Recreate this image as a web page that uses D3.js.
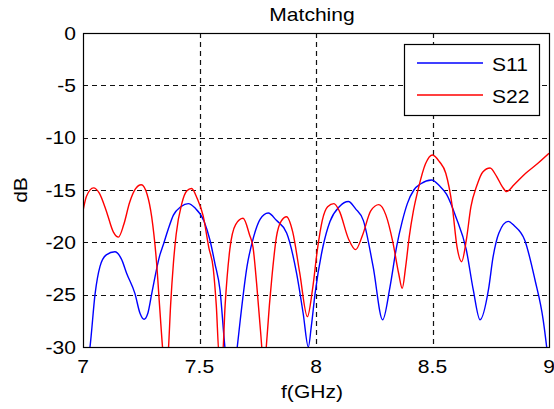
<!DOCTYPE html>
<html>
<head>
<meta charset="utf-8">
<script src="https://cdn.jsdelivr.net/npm/d3@7"></script>
<style>
  body{margin:0;background:#fff;}
  text{font-family:"Liberation Sans",Arial,sans-serif;fill:#000;}
</style>
</head>
<body>
<svg id="chart"></svg>
<script>
// frequency (GHz) and return loss (dB) for each port
var s11Freq=[7.00,7.03,7.052,7.073,7.10,7.137,7.165,7.188,7.223,7.245,7.262,7.278,7.295,7.33,7.345,7.365,7.388,7.42,7.452,7.48,
             7.52,7.545,7.566,7.588,7.609,7.635,7.662,7.675,7.704,7.732,7.76,7.795,7.83,7.874,7.917,7.945,7.967,7.98,7.996,
             8.03,8.06,8.10,8.139,8.17,8.203,8.245,8.286,8.318,8.346,8.37,8.392,8.42,8.45,8.496,8.53,8.56,8.60,8.645,8.675,
             8.704,8.74,8.76,8.785,8.825,8.85,8.896,8.94,8.975,8.99,9.00];
var s11Db=[-33,-30,-24.9,-22.3,-21.2,-20.9,-21.6,-23.0,-24.9,-26.8,-27.35,-26.8,-24.9,-21.2,-20.2,-18.8,-17.4,-16.6,-16.3,-16.7,
           -18.0,-19.8,-22.0,-24.55,-30,-34,-30,-27.4,-22.3,-19.5,-17.8,-17.2,-17.9,-19.1,-23,-26.8,-30,-28,-24.9,
           -20.4,-18.0,-16.6,-16.1,-16.8,-17.9,-22.3,-27.4,-24.2,-20.4,-18.0,-16.3,-15.0,-14.4,-14.05,-14.6,-15.4,-17.55,-20.7,-24.55,
           -27.4,-24.55,-21.4,-19.1,-18.0,-18.4,-19.8,-23.6,-27.4,-30,-32];
var s22Freq=[7.00,7.015,7.045,7.07,7.10,7.13,7.152,7.175,7.20,7.225,7.25,7.275,7.295,7.316,7.33,7.345,7.356,7.366,7.376,7.388,
             7.40,7.424,7.445,7.466,7.49,7.516,7.54,7.559,7.572,7.585,7.598,7.61,7.63,7.655,7.687,7.715,7.73,7.745,7.762,7.777,
             7.79,7.80,7.81,7.83,7.85,7.874,7.90,7.93,7.963,7.985,8.006,8.027,8.05,8.077,8.10,8.14,8.17,8.20,8.235,8.27,
             8.30,8.33,8.355,8.37,8.385,8.40,8.418,8.44,8.47,8.50,8.53,8.557,8.585,8.605,8.625,8.645,8.665,8.69,8.715,8.747,
             8.775,8.80,8.818,8.85,8.90,8.95,9.00];
var s22Db=[-17.0,-15.6,-14.8,-15.3,-17.0,-19.0,-19.5,-18.3,-16.2,-14.9,-14.5,-15.4,-17.6,-22.0,-26.5,-31,-33,-30.5,-26,-22,
           -19.2,-16.3,-15.1,-14.85,-15.8,-17.5,-20.5,-22.5,-26,-31,-31,-26,-20.7,-18.3,-17.7,-19.3,-20.5,-23.9,-28.5,-32,
           -29,-26,-23.5,-19.5,-18.0,-17.55,-19.0,-22.9,-27.1,-24.5,-20.7,-17.9,-16.6,-16.3,-17.0,-19.7,-20.7,-19.3,-17.0,-16.4,
           -17.4,-20.0,-23,-24.4,-22.3,-19.5,-17.0,-14.8,-12.5,-11.65,-12.3,-13.4,-16.6,-20.4,-21.85,-19.8,-16.6,-14.6,-13.3,-12.9,
           -13.7,-14.7,-15.15,-14.5,-13.4,-12.5,-11.5];
var seriesNames=["S11","S22"];
var seriesColors=["#0000ff","#ff0000"];
var xTicks=[7,7.5,8,8.5,9];
var yTicks=[0,-5,-10,-15,-20,-25,-30];

var W=554,H=409;
var margin={left:83,right:5,top:33,bottom:62};
var stretch=1.17; // labels are drawn slightly wide

var svg=d3.select("#chart").attr("width",W).attr("height",H);

var xScale=d3.scaleLinear().domain([7,9]).range([margin.left,W-margin.right]);
var yScale=d3.scaleLinear().domain([-30,0]).range([H-margin.bottom,margin.top]);

var label=function(g,x,y,str,size,anchor,rot){
  return g.append("text")
    .attr("transform","translate("+x+","+y+")"+(rot?" rotate("+rot+")":"")+" scale("+stretch+",1)")
    .attr("text-anchor",anchor)
    .style("font-size",size+"px")
    .text(str);
}

svg.append("defs").append("clipPath").attr("id","plotclip")
   .append("rect")
   .attr("x",margin.left).attr("y",margin.top)
   .attr("width",xScale(9)-xScale(7)).attr("height",yScale(-30)-yScale(0));

// dashed grid
var grid=svg.append("g").attr("stroke","#111").attr("stroke-width",1.2).attr("stroke-dasharray","5,4");
grid.selectAll("line.h")
    .data(yTicks.filter(function(d){return d>-30&&d<0;}))
    .enter().append("line")
    .attr("x1",xScale(7)).attr("x2",xScale(9))
    .attr("y1",function(d){return Math.round(yScale(d))+0.5;})
    .attr("y2",function(d){return Math.round(yScale(d))+0.5;});
grid.selectAll("line.v")
    .data(xTicks.filter(function(d){return d>7&&d<9;}))
    .enter().append("line")
    .attr("y1",yScale(0)).attr("y2",yScale(-30))
    .attr("x1",function(d){return Math.round(xScale(d))+0.5;})
    .attr("x2",function(d){return Math.round(xScale(d))+0.5;});

// curves
var line=d3.line()
  .x(function(d){return xScale(d[0]);})
  .y(function(d){return yScale(d[1]);})
  .curve(d3.curveMonotoneX);
var series=[d3.zip(s11Freq,s11Db),d3.zip(s22Freq,s22Db)];
svg.append("g").attr("clip-path","url(#plotclip)")
   .selectAll("path")
   .data(series)
   .enter().append("path")
   .attr("d",line)
   .attr("fill","none")
   .attr("stroke",function(d,i){return seriesColors[i];})
   .attr("stroke-width",1.4);

// axes box
svg.append("rect")
   .attr("x",Math.round(xScale(7))+0.5).attr("y",Math.round(yScale(0))+0.5)
   .attr("width",Math.round(xScale(9))-Math.round(xScale(7)))
   .attr("height",Math.round(yScale(-30))-Math.round(yScale(0)))
   .attr("fill","none").attr("stroke","#000").attr("stroke-width",1.2);

// tick labels
var labels=svg.append("g");
xTicks.forEach(function(t){
  label(labels,xScale(t),373,String(t),18,"middle");
});
yTicks.forEach(function(t){
  label(labels,76,yScale(t)+6.5,String(t),18,"end");
});

// titles
label(svg,312,21,"Matching",18,"middle");
label(svg,312,398,"f(GHz)",18,"middle");
label(svg,26.5,190,"dB",18,"middle",-90);

// legend
var legend=svg.append("g");
legend.append("rect")
      .attr("x",404.5).attr("y",44.5).attr("width",135).attr("height",71)
      .attr("fill","#fff").attr("stroke","#000").attr("stroke-width",1.2);
seriesNames.forEach(function(name,i){
  var y=63+i*32;
  legend.append("line")
        .attr("x1",417).attr("x2",483).attr("y1",y).attr("y2",y)
        .attr("stroke",seriesColors[i]).attr("stroke-width",1.5);
  label(legend,492,y+8,name,18,"start");
});
</script>
</body>
</html>
